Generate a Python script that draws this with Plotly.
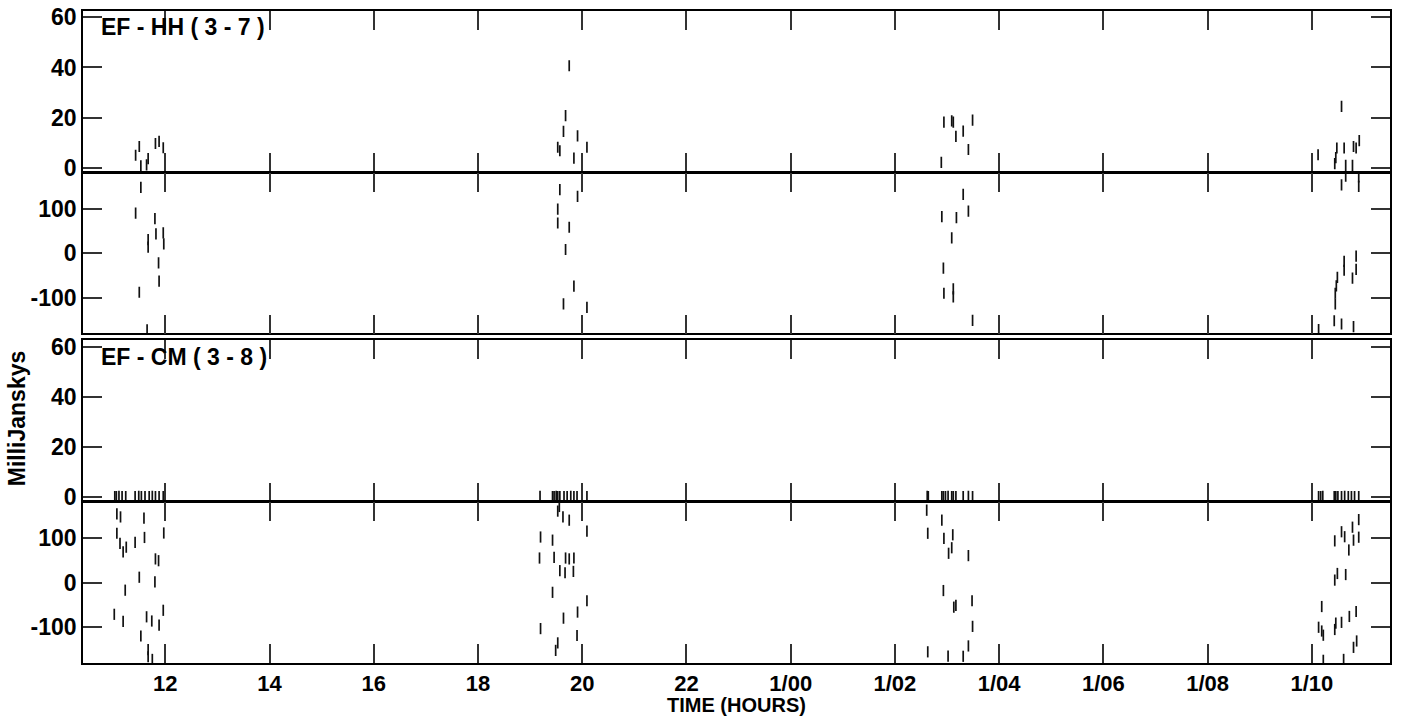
import plotly.graph_objects as go

# ---------------- data (time in hours; 24 = 1/00) ----------------
hh_amp_t = [11.43, 11.50, 11.53, 11.64, 11.67, 11.81, 11.88, 11.96,
            19.53, 19.57, 19.64, 19.68, 19.75, 19.84, 19.91, 20.09,
            26.89, 26.94, 27.09, 27.12, 27.17, 27.31, 27.41, 27.49,
            34.12, 34.44, 34.46, 34.48, 34.57, 34.62, 34.65, 34.78, 34.80, 34.85, 34.91]
hh_amp_v = [5.0, 8.5, 0.8, 1.2, 3.7, 9.7, 10.5, 8.0,
            8.2, 6.8, 14.5, 20.8, 40.7, 3.9, 12.7, 8.2,
            2.2, 18.2, 18.7, 18.2, 12.5, 14.6, 7.3, 19.0,
            5.2, 1.7, 4.1, 7.9, 24.5, 7.9, 1.0, 1.0, 8.5, 7.9, 10.8]

hh_ph_t = [11.43, 11.50, 11.53, 11.65, 11.67, 11.67, 11.80, 11.82, 11.87, 11.88, 11.96, 11.97,
           19.53, 19.53, 19.57, 19.64, 19.68, 19.75, 19.84, 19.91, 20.09,
           26.90, 26.93, 26.94, 27.09, 27.12, 27.12, 27.18, 27.31, 27.41, 27.49,
           34.13, 34.43, 34.45, 34.45, 34.47, 34.49, 34.57, 34.57, 34.62, 34.62, 34.65,
           34.78, 34.80, 34.85, 34.85, 34.90, 34.90]
hh_ph_v = [90.6, -87.5, 148.5, -172, 31, 14, 78.4, 43.9, -21.4, -62.6, 46, 21.6,
           99.6, 68.4, 143.4, -113.8, 8.7, 58.8, -73.7, 128.5, -121.6,
           82.8, -33, -89.8, 35, -79.7, -98, 80.6, 133, 95, -151,
           -171.5, -151.7, -89.8, -114, -73, -54, 154, -159, -18, -38, 173.6,
           -55.6, -165, -6, -36, 172, 151]

cm_amp_t = [11.03, 11.06, 11.11, 11.17, 11.24, 11.42, 11.49, 11.54, 11.61, 11.69, 11.75, 11.81, 11.88, 11.96,
            19.19, 19.43, 19.46, 19.50, 19.53, 19.57, 19.65, 19.71, 19.78, 19.84, 19.90, 20.09,
            26.62, 26.64, 26.90, 26.93, 26.97, 27.02, 27.09, 27.12, 27.17, 27.31, 27.41, 27.49,
            34.13, 34.17, 34.21, 34.43, 34.46, 34.50, 34.57, 34.63, 34.70, 34.76, 34.82, 34.90]
cm_amp_v = [0.2, 0.2, 0.3, 0.2, 0.2, 0.2, 0.3, 0.2, 0.2, 0.2, 0.3, 0.2, 0.2, 0.2,
            0.3, 0.2, 0.2, 0.3, 0.2, 0.2, 0.2, 0.2, 0.3, 0.2, 0.2, 0.2,
            0.3, 0.2, 0.2, 0.2, 0.2, 0.3, 0.2, 0.2, 0.2, 0.2, 0.3, 0.2,
            0.2, 0.2, 0.3, 0.2, 0.2, 0.2, 0.2, 0.3, 0.2, 0.2, 0.2, 0.2]

cm_ph_t = [11.07, 11.14, 11.59, 11.07, 11.97, 11.13, 11.25, 11.19, 11.42, 11.60, 11.81, 11.87, 11.50,
           11.80, 11.23, 11.02, 11.19, 11.64, 11.74, 11.88, 11.96, 11.53, 11.67, 11.67, 11.75,
           19.56, 19.53, 19.63, 19.75, 20.09, 19.20, 19.43, 19.18, 19.46, 19.68, 19.75, 19.84,
           19.57, 19.67, 19.83, 19.43, 20.09, 19.91, 19.64, 19.20, 19.90, 19.53, 19.49,
           26.61, 26.90, 26.63, 26.94, 27.11, 27.09, 27.03, 27.41, 26.93, 27.48, 27.13, 27.17,
           27.49, 27.41, 26.63, 27.02, 27.31,
           34.90, 34.78, 34.57, 34.63, 34.44, 34.80, 34.90, 34.71, 34.49, 34.44, 34.65, 34.19,
           34.85, 34.72, 34.46, 34.57, 34.44, 34.13, 34.19, 34.22, 34.86, 34.80, 34.22, 34.61]
cm_ph_v = [153.8, 147, 144.4, 110.4, 111, 88, 79.3, 68.6, 89.8, 101, 53, 49, 12,
           1.5, -17, -71, -87, -76.6, -86, -95, -62, -119.6, -150, -166, -172,
           170.4, 160, 147, 139.7, 115, 102, 95, 55, 56.4, 55, 53, 55,
           26.7, 22, 25, -21.8, -40.7, -66, -79.6, -103, -118.4, -135, -151.8,
           162, 139.8, 110.4, 99, 107, 78, 65.6, 60.4, -17.8, -40.7, -55, -51,
           -98, -141.8, -155, -164.7, -165,
           141, 124, 113.8, 102.7, 93.4, 95, 101.6, 73, 20.4, 5.6, 18, -53.6,
           -64.7, -75.8, -90.7, -89, -105, -100, -108.4, -117.8, -130.7, -145, -174, -172]

x_tickvals = [12, 14, 16, 18, 20, 22, 24, 26, 28, 30, 32, 34]
x_ticktext = ["12", "14", "16", "18", "20", "22", "1/00", "1/02", "1/04", "1/06", "1/08", "1/10"]
amp_ticks = [0, 20, 40, 60]
amp_ticktext = ["0", "20", "40", "60"]
ph_ticks = [-100, 0, 100]
ph_ticktext = ["-100", "0", "100"]
panel_titles = ["EF - HH ( 3 - 7 )", "EF - CM ( 3 - 8 )"]

# ---------------- figure ----------------
W, H = 1401, 726
ML, MR, MT, MB = 83, 11, 5, 63
PH = H - MT - MB

def py(p):  # pixel y -> paper fraction
    return (H - MB - p) / PH

def px(p):
    return (p - ML) / (W - ML - MR)

FAM = "Liberation Sans"
FONT = dict(family=FAM, size=22, color="black", weight="bold")
YFONT = dict(FONT, size=23)
mk = dict(symbol="line-ns", size=8, line=dict(width=1.7, color="#111111"), color="#111111")

fig = go.Figure()
series = [(hh_amp_t, hh_amp_v), (hh_ph_t, hh_ph_v), (cm_amp_t, cm_amp_v), (cm_ph_t, cm_ph_v)]
for i, (t, v) in enumerate(series):
    sfx = "" if i == 0 else str(i + 1)
    fig.add_trace(go.Scatter(x=t, y=v, mode="markers", marker=mk,
                             xaxis="x" + sfx, yaxis="y" + sfx,
                             showlegend=False, hoverinfo="x+y"))

domains = [[py(167.3), py(5.3)], [py(330.3), py(168.9)],
           [py(500.0), py(337.3)], [0.0, py(500.7)]]
yranges = [[-1.6, 62.4], [-180, 180], [-1.7, 62.6], [-180, 180]]
yticks = [amp_ticks, ph_ticks, amp_ticks, ph_ticks]
yticktext = [amp_ticktext, ph_ticktext, amp_ticktext, ph_ticktext]

axis_common = dict(showline=True, linecolor="black", linewidth=1.6, mirror="ticks",
                   ticks="inside", ticklen=19, tickwidth=1.5, tickcolor="#333333",
                   showgrid=False, zeroline=False)

lay = {}
for i in range(4):
    sfx = "" if i == 0 else str(i + 1)
    lay["xaxis" + sfx] = dict(axis_common, domain=[0, 1], anchor="y" + sfx,
                              range=[10.42, 35.5], tickvals=x_tickvals, ticktext=x_ticktext,
                              showticklabels=(i == 3), ticklabelstandoff=0, tickfont=FONT)
    lay["yaxis" + sfx] = dict(axis_common, domain=domains[i], anchor="x" + sfx,
                              range=yranges[i], tickvals=yticks[i], ticktext=yticktext[i],
                              ticklabelstandoff=0, tickfont=YFONT)

fig.update_layout(width=W, height=H, margin=dict(l=ML, r=MR, t=MT, b=MB),
                  paper_bgcolor="white", plot_bgcolor="white",
                  font=FONT, **lay)

fig.add_annotation(text=panel_titles[0], xref="paper", yref="paper", x=px(99), y=py(21),
                   xanchor="left", yanchor="middle", showarrow=False,
                   font=dict(FONT, size=23))
fig.add_annotation(text=panel_titles[1], xref="paper", yref="paper", x=px(99), y=py(354),
                   xanchor="left", yanchor="middle", showarrow=False,
                   font=dict(FONT, size=23))
fig.add_annotation(text="MilliJanskys", xref="paper", yref="paper", x=px(16.5), y=py(416.5),
                   xanchor="center", yanchor="middle", textangle=-90, showarrow=False,
                   font=dict(FONT, size=23))
fig.add_annotation(text="TIME (HOURS)", xref="paper", yref="paper", x=0.5, y=py(705),
                   xanchor="center", yanchor="middle", showarrow=False,
                   font=dict(FONT, size=20))

fig.write_html("out.html", config={"displayModeBar": False},
               post_script="document.body.style.margin='0px';")
